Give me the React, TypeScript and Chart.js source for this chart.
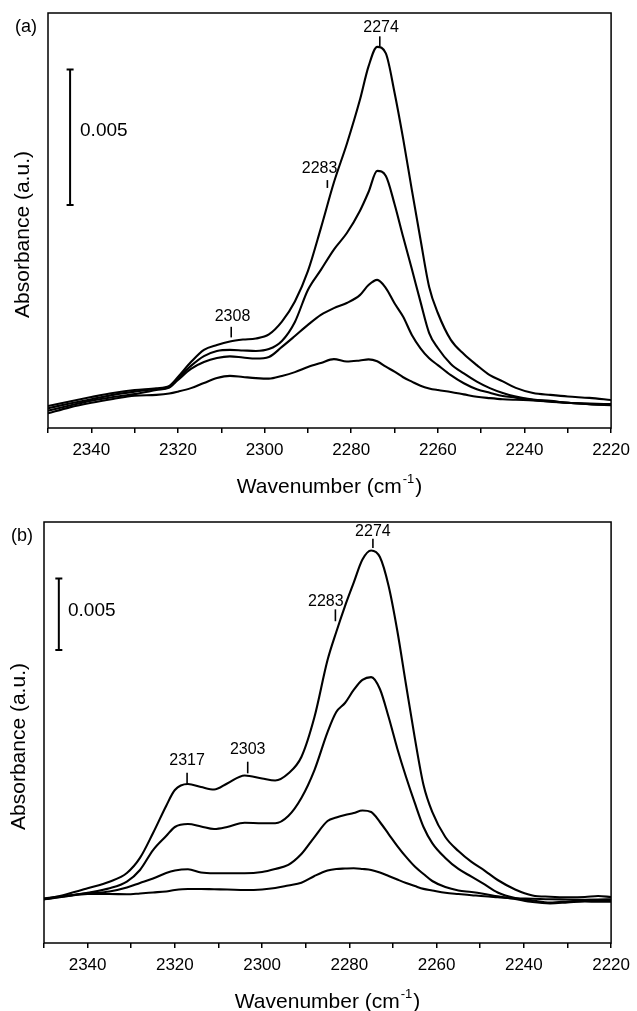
import React, { useEffect, useRef } from "react";
import { Chart, registerables } from "chart.js";

Chart.register(...registerables);

// ---------- Panel (a) data ----------
const WAVENUMBER_A = [2350, 2345, 2340, 2335, 2330, 2325, 2322, 2320, 2317, 2314, 2311, 2308, 2305, 2302, 2299, 2296, 2293, 2290, 2287, 2284, 2281, 2278, 2276, 2274, 2272, 2270, 2268, 2266, 2264, 2262, 2260, 2257, 2254, 2251, 2248, 2245, 2242, 2238, 2234, 2230, 2225, 2220];
const A_SPECTRUM_1 = [0.00081, 0.00098, 0.00114, 0.00129, 0.0014, 0.00146, 0.00155, 0.00188, 0.00243, 0.00288, 0.00306, 0.00319, 0.00326, 0.0033, 0.00345, 0.00392, 0.00466, 0.00578, 0.00737, 0.00905, 0.01048, 0.01209, 0.01333, 0.01405, 0.01381, 0.01237, 0.01066, 0.00878, 0.00695, 0.0052, 0.00424, 0.00325, 0.00273, 0.00232, 0.00195, 0.00172, 0.00148, 0.00129, 0.00122, 0.00116, 0.00111, 0.00103];
const A_SPECTRUM_2 = [0.00073, 0.0009, 0.00106, 0.00122, 0.00134, 0.00144, 0.00151, 0.00183, 0.00229, 0.00265, 0.00284, 0.00288, 0.00286, 0.00284, 0.00291, 0.00321, 0.00391, 0.00509, 0.00583, 0.00658, 0.00719, 0.008, 0.0087, 0.00948, 0.00929, 0.00826, 0.00704, 0.00586, 0.00465, 0.0035, 0.00295, 0.00236, 0.00201, 0.00171, 0.00147, 0.00129, 0.00116, 0.00105, 0.001, 0.00093, 0.0009, 0.00088];
const A_SPECTRUM_3 = [0.00064, 0.00083, 0.00101, 0.00114, 0.00125, 0.0014, 0.00149, 0.00177, 0.00218, 0.00243, 0.00258, 0.00264, 0.0026, 0.00256, 0.00262, 0.00299, 0.00339, 0.0038, 0.00417, 0.00442, 0.00461, 0.0049, 0.00527, 0.00546, 0.00516, 0.0046, 0.0041, 0.00343, 0.00294, 0.00257, 0.00232, 0.00195, 0.00165, 0.00143, 0.0013, 0.00118, 0.00112, 0.00103, 0.00097, 0.00093, 0.00088, 0.00084];
const A_SPECTRUM_4 = [0.00054, 0.00076, 0.00093, 0.00107, 0.00119, 0.00122, 0.00127, 0.00134, 0.00147, 0.00166, 0.00184, 0.00192, 0.00188, 0.00184, 0.00182, 0.00192, 0.00206, 0.00225, 0.0024, 0.00254, 0.00245, 0.00249, 0.00253, 0.00246, 0.00226, 0.00208, 0.00187, 0.00171, 0.00156, 0.00146, 0.0014, 0.00133, 0.00124, 0.00115, 0.0011, 0.00106, 0.00104, 0.00102, 0.00098, 0.00093, 0.00088, 0.00085];

// ---------- Panel (b) data ----------
const WAVENUMBER_B = [2350, 2345, 2340, 2335, 2331, 2328, 2325, 2322, 2320, 2317, 2314, 2311, 2308, 2304, 2300, 2297, 2294, 2291, 2288, 2285, 2283, 2281, 2279, 2277, 2275, 2273, 2271, 2269, 2267, 2265, 2263, 2261, 2258, 2255, 2252, 2249, 2246, 2242, 2238, 2234, 2230, 2226, 2223, 2220];
const B_SPECTRUM_1 = [0.00305, 0.00339, 0.00382, 0.00428, 0.00489, 0.00594, 0.00768, 0.00957, 0.01068, 0.0111, 0.01089, 0.01072, 0.01114, 0.0117, 0.01149, 0.01135, 0.01184, 0.01299, 0.01578, 0.01976, 0.02172, 0.02353, 0.02517, 0.02678, 0.02741, 0.02695, 0.02493, 0.02179, 0.01802, 0.01432, 0.01103, 0.00915, 0.0074, 0.00642, 0.00566, 0.00506, 0.0044, 0.00374, 0.00332, 0.00323, 0.00319, 0.00321, 0.00328, 0.00321];
const B_SPECTRUM_2 = [0.00305, 0.00328, 0.00351, 0.00382, 0.00429, 0.0051, 0.00649, 0.00747, 0.0081, 0.00831, 0.00814, 0.00796, 0.0081, 0.0084, 0.00836, 0.00836, 0.00887, 0.01013, 0.01208, 0.01473, 0.01613, 0.01676, 0.01767, 0.01837, 0.01857, 0.01774, 0.01578, 0.01357, 0.01159, 0.00978, 0.0081, 0.00698, 0.00594, 0.00517, 0.00464, 0.00409, 0.00353, 0.00314, 0.00297, 0.00283, 0.0029, 0.003, 0.00304, 0.00305];
const B_SPECTRUM_3 = [0.00312, 0.00328, 0.00347, 0.0036, 0.00388, 0.00419, 0.0045, 0.00489, 0.00506, 0.00515, 0.00492, 0.00487, 0.00487, 0.00487, 0.00496, 0.00517, 0.00545, 0.00621, 0.0074, 0.00852, 0.00876, 0.00894, 0.00908, 0.00925, 0.00915, 0.00845, 0.00761, 0.00677, 0.00601, 0.00534, 0.00482, 0.00433, 0.00391, 0.00367, 0.00356, 0.00342, 0.00326, 0.00307, 0.00286, 0.00277, 0.00283, 0.0029, 0.00288, 0.00288];
const B_SPECTRUM_4 = [0.00305, 0.00325, 0.00342, 0.00342, 0.0034, 0.00346, 0.00353, 0.0036, 0.0037, 0.00377, 0.00377, 0.00375, 0.00374, 0.0037, 0.00374, 0.00384, 0.00402, 0.00421, 0.00468, 0.00506, 0.00517, 0.0052, 0.00522, 0.00517, 0.0051, 0.00492, 0.00468, 0.00443, 0.00419, 0.00398, 0.00378, 0.00367, 0.00351, 0.00342, 0.00334, 0.00326, 0.0032, 0.00312, 0.00309, 0.00305, 0.00304, 0.00302, 0.003, 0.003];

// ---------- Axis ----------
const X_MIN = 2220;
const X_MAX = 2350;
const X_STEP = 10;
const X_LABEL_EVERY = 20;
const Y_MAX_A = 0.0153;
const Y_MAX_B = 0.0294;

// ---------- Annotations (data coordinates) ----------
const PEAK_LABELS_A = ["2274", "2283", "2308"];
const PEAK_TICK_X_A = [2273.4, 2285.5, 2307.7];
const PEAK_TICK_Y_A = [[0.01407, 0.01444], [0.00885, 0.00914], [0.00334, 0.00373]];
const PEAK_TEXT_POS_A = [[2273.1, 0.01475], [2287.3, 0.00955], [2307.4, 0.0041]];

const PEAK_LABELS_B = ["2274", "2283", "2317", "2303"];
const PEAK_TICK_X_B = [2274.6, 2283.2, 2317.2, 2303.3];
const PEAK_TICK_Y_B = [[0.02758, 0.02823], [0.02247, 0.0233], [0.0111, 0.01189], [0.01185, 0.01266]];
const PEAK_TEXT_POS_B = [[2274.6, 0.02875], [2285.4, 0.02381], [2317.2, 0.01271], [2303.3, 0.01348]];

const SCALE_BAR_SIZE = 0.005;
const SCALE_BAR_A = { x: 2344.9, bottom: 0.00822, textX: 2342.6, textY: 0.01095 };
const SCALE_BAR_B = { x: 2346.6, bottom: 0.02046, textX: 2344.5, textY: 0.02318 };

const FONT = '"Liberation Sans", Arial, Helvetica, sans-serif';

type PanelCfg = {
  panel: string;
  wavenumbers: number[];
  series: number[][];
  yMax: number;
  peakLabels: string[];
  peakTickX: number[];
  peakTickY: number[][];
  peakTextPos: number[][];
  bar: { x: number; bottom: number; textX: number; textY: number };
  width: number;
  height: number;
  padTop: number;
  padLeft: number;
  padRight: number;
  xAxisHeight: number;
};

function makeDecor(cfg: PanelCfg) {
  return {
    id: "decor",
    afterDatasetsDraw(chart: any) {
      const { ctx, chartArea: a, scales } = chart;
      const x = scales.x;
      const y = scales.y;
      ctx.save();
      ctx.strokeStyle = "#000";
      ctx.fillStyle = "#000";
      // frame
      ctx.lineWidth = 1.5;
      ctx.strokeRect(a.left, a.top, a.right - a.left, a.bottom - a.top);

      // scale bar
      const sx = x.getPixelForValue(cfg.bar.x);
      const y0 = y.getPixelForValue(cfg.bar.bottom);
      const y1 = y.getPixelForValue(cfg.bar.bottom + SCALE_BAR_SIZE);
      ctx.lineWidth = 2;
      ctx.beginPath();
      ctx.moveTo(sx, y0);
      ctx.lineTo(sx, y1);
      ctx.moveTo(sx - 3.5, y0);
      ctx.lineTo(sx + 3.5, y0);
      ctx.moveTo(sx - 3.5, y1);
      ctx.lineTo(sx + 3.5, y1);
      ctx.stroke();
      ctx.font = `19px ${FONT}`;
      ctx.textAlign = "left";
      ctx.textBaseline = "middle";
      ctx.fillText(String(SCALE_BAR_SIZE), x.getPixelForValue(cfg.bar.textX), y.getPixelForValue(cfg.bar.textY));

      // peak markers
      ctx.lineWidth = 1.6;
      ctx.font = `16px ${FONT}`;
      ctx.textAlign = "center";
      cfg.peakLabels.forEach((lab, i) => {
        const px = x.getPixelForValue(cfg.peakTickX[i]);
        ctx.beginPath();
        ctx.moveTo(px, y.getPixelForValue(cfg.peakTickY[i][0]));
        ctx.lineTo(px, y.getPixelForValue(cfg.peakTickY[i][1]));
        ctx.stroke();
        ctx.fillText(lab, x.getPixelForValue(cfg.peakTextPos[i][0]), y.getPixelForValue(cfg.peakTextPos[i][1]));
      });

      // panel label
      ctx.font = `18px ${FONT}`;
      ctx.fillText(cfg.panel, a.left - 22, a.top + 14);

      // y title
      ctx.save();
      ctx.translate(a.left - 25, (a.top + a.bottom) / 2 + 14);
      ctx.rotate(-Math.PI / 2);
      ctx.font = `21px ${FONT}`;
      ctx.textAlign = "center";
      ctx.textBaseline = "middle";
      ctx.fillText("Absorbance (a.u.)", 0, 0);
      ctx.restore();

      // x title with superscript
      const main = "Wavenumber (cm";
      const sup = "-1";
      const end = ")";
      ctx.font = `21px ${FONT}`;
      const wMain = ctx.measureText(main).width;
      const wEnd = ctx.measureText(end).width;
      ctx.font = `13px ${FONT}`;
      const wSup = ctx.measureText(sup).width;
      const total = wMain + wSup + wEnd + 2;
      let tx = (a.left + a.right) / 2 - total / 2;
      const ty = a.bottom + 59;
      ctx.textAlign = "left";
      ctx.textBaseline = "middle";
      ctx.font = `21px ${FONT}`;
      ctx.fillText(main, tx, ty);
      tx += wMain + 1;
      ctx.font = `13px ${FONT}`;
      ctx.fillText(sup, tx, ty - 8);
      tx += wSup + 1;
      ctx.font = `21px ${FONT}`;
      ctx.fillText(end, tx, ty);
      ctx.restore();
    },
  };
}

function Panel({ cfg, top }: { cfg: PanelCfg; top: number }) {
  const ref = useRef<HTMLCanvasElement | null>(null);
  useEffect(() => {
    if (!ref.current) return;
    const datasets = cfg.series.map((s, k) => ({
      label: `spectrum ${k + 1}`,
      data: cfg.wavenumbers.map((w, i) => ({ x: w, y: s[i] })),
      borderColor: "#000",
      borderWidth: 2.1,
      pointRadius: 0,
      fill: false,
      cubicInterpolationMode: "monotone" as const,
    }));
    const chart = new Chart(ref.current, {
      type: "line",
      data: { datasets },
      options: {
        responsive: false,
        animation: false,
        devicePixelRatio: 1,
        layout: { padding: { top: cfg.padTop, left: cfg.padLeft, right: cfg.padRight, bottom: 0 } },
        plugins: { legend: { display: false }, tooltip: { enabled: false } },
        scales: {
          x: {
            type: "linear",
            min: X_MIN,
            max: X_MAX,
            reverse: true,
            border: { display: false },
            grid: { drawOnChartArea: false, drawTicks: true, tickLength: 5, color: "#000", lineWidth: 1.5 },
            ticks: {
              stepSize: X_STEP,
              autoSkip: false,
              maxRotation: 0,
              padding: 7,
              color: "#000",
              font: { family: FONT, size: 17 },
              callback: (v: any) => (Number(v) % X_LABEL_EVERY === 0 ? String(v) : ""),
            },
            afterFit: (scale: any) => {
              scale.height = cfg.xAxisHeight;
            },
          },
          y: { display: false, min: 0, max: cfg.yMax },
        },
      },
      plugins: [makeDecor(cfg)],
    });
    return () => chart.destroy();
  }, [cfg]);
  return (
    <canvas
      ref={ref}
      width={cfg.width}
      height={cfg.height}
      style={{ position: "absolute", left: 0, top, width: cfg.width, height: cfg.height }}
    />
  );
}

const CFG_A: PanelCfg = {
  panel: "(a)",
  wavenumbers: WAVENUMBER_A,
  series: [A_SPECTRUM_1, A_SPECTRUM_2, A_SPECTRUM_3, A_SPECTRUM_4],
  yMax: Y_MAX_A,
  peakLabels: PEAK_LABELS_A,
  peakTickX: PEAK_TICK_X_A,
  peakTickY: PEAK_TICK_Y_A,
  peakTextPos: PEAK_TEXT_POS_A,
  bar: SCALE_BAR_A,
  width: 637,
  height: 500,
  padTop: 13,
  padLeft: 48,
  padRight: 24,
  xAxisHeight: 72,
};

const CFG_B: PanelCfg = {
  panel: "(b)",
  wavenumbers: WAVENUMBER_B,
  series: [B_SPECTRUM_1, B_SPECTRUM_2, B_SPECTRUM_3, B_SPECTRUM_4],
  yMax: Y_MAX_B,
  peakLabels: PEAK_LABELS_B,
  peakTickX: PEAK_TICK_X_B,
  peakTickY: PEAK_TICK_Y_B,
  peakTextPos: PEAK_TEXT_POS_B,
  bar: SCALE_BAR_B,
  width: 637,
  height: 511,
  padTop: 22,
  padLeft: 44,
  padRight: 19,
  xAxisHeight: 68,
};

export default function App() {
  return (
    <div style={{ position: "absolute", left: 0, top: 0, width: 637, height: 1011, background: "#fff", overflow: "hidden" }}>
      <Panel cfg={CFG_A} top={0} />
      <Panel cfg={CFG_B} top={500} />
    </div>
  );
}
